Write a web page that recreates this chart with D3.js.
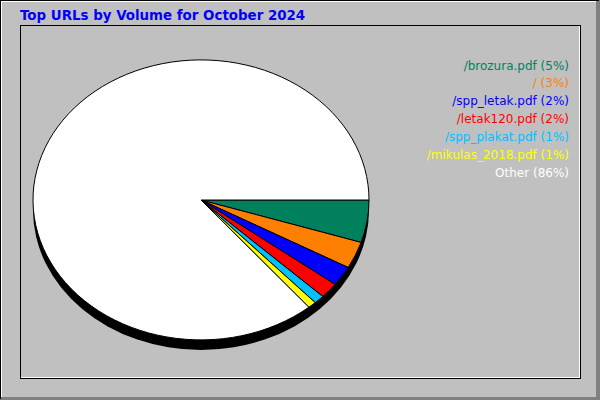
<!DOCTYPE html>
<html>
<head>
<meta charset="utf-8">
<script src="https://cdn.jsdelivr.net/npm/d3@7"></script>
<style>
  body { margin: 0; background: #c0c0c0; }
  svg { display: block; }
</style>
</head>
<body>
<svg id="chart" width="600" height="400"></svg>
<script>
// chart data
var urls = ["/brozura.pdf", "/", "/spp_letak.pdf", "/letak120.pdf", "/spp_plakat.pdf", "/mikulas_2018.pdf", "Other"];
var shares = [4.9, 3.1, 2.3, 1.8, 1.0, 0.8, 86.1];
var pctLabels = ["5%", "3%", "2%", "2%", "1%", "1%", "86%"];
var sliceColors = ["#00805c", "#ff8000", "#0000ff", "#ff0000", "#00c0ff", "#ffff00", "#ffffff"];
var title = "Top URLs by Volume for October 2024";

var W = 600, H = 400;
var cx = 201, cy = 200, rx = 168, ry = 140, depth = 10;

var svg = d3.select("#chart");

// background + bevelled frame
svg.append("rect").attr("width", W).attr("height", H).attr("fill", "#c0c0c0");
svg.append("rect").attr("x", 596).attr("y", 0).attr("width", 4).attr("height", H).attr("fill", "#808080");
svg.append("rect").attr("x", 0).attr("y", 397).attr("width", W).attr("height", 3).attr("fill", "#808080");

var frame = svg.append("g").attr("shape-rendering", "crispEdges").attr("stroke-width", 1);
frame.append("line").attr("x1", 0).attr("y1", 0.5).attr("x2", 599).attr("y2", 0.5).attr("stroke", "#000");
frame.append("line").attr("x1", 0.5).attr("y1", 0).attr("x2", 0.5).attr("y2", 399).attr("stroke", "#000");
frame.append("line").attr("x1", 1).attr("y1", 1.5).attr("x2", 596).attr("y2", 1.5).attr("stroke", "#fff");
frame.append("line").attr("x1", 1.5).attr("y1", 1).attr("x2", 1.5).attr("y2", 397).attr("stroke", "#fff");

// inner box
frame.append("line").attr("x1", 20).attr("y1", 25.5).attr("x2", 581).attr("y2", 25.5).attr("stroke", "#000");
frame.append("line").attr("x1", 20.5).attr("y1", 25).attr("x2", 20.5).attr("y2", 379).attr("stroke", "#000");
frame.append("line").attr("x1", 21).attr("y1", 377.5).attr("x2", 580).attr("y2", 377.5).attr("stroke", "#fff");
frame.append("line").attr("x1", 579.5).attr("y1", 26).attr("x2", 579.5).attr("y2", 378).attr("stroke", "#fff");
frame.append("line").attr("x1", 20).attr("y1", 378.5).attr("x2", 581).attr("y2", 378.5).attr("stroke", "#000");
frame.append("line").attr("x1", 580.5).attr("y1", 25).attr("x2", 580.5).attr("y2", 379).attr("stroke", "#000");

// title
svg.append("text")
  .attr("x", 20).attr("y", 20)
  .attr("font-family", "DejaVu Sans").attr("font-weight", "bold").attr("font-size", 13.4)
  .attr("fill", "#0000ff")
  .text(title);

// pie, starts at 3 o'clock and runs clockwise
var color = d3.scaleOrdinal().domain(urls).range(sliceColors);
var pie = d3.pie().sort(null).value(function(d) { return d; })
  .startAngle(Math.PI / 2).endAngle(Math.PI / 2 + 2 * Math.PI);
var arc = d3.arc().innerRadius(0).outerRadius(1);
var slices = pie(shares);

// 3D shadow
svg.append("ellipse")
  .attr("cx", cx).attr("cy", cy + depth).attr("rx", rx).attr("ry", ry)
  .attr("fill", "#000");

var g = svg.append("g").attr("transform", "translate(" + cx + "," + cy + ") scale(" + rx + "," + ry + ")");
g.selectAll("path")
  .data(slices)
  .enter()
  .append("path")
    .attr("d", arc)
    .attr("fill", function(d, i) { return color(urls[i]); })
    .attr("stroke", "#000")
    .attr("stroke-width", 1)
    .attr("vector-effect", "non-scaling-stroke")
    .attr("stroke-linejoin", "bevel");

// legend
var y = d3.scaleLinear().domain([0, urls.length - 1]).range([69.5, 176.5]);
svg.append("g").selectAll("text")
  .data(urls)
  .enter()
  .append("text")
    .attr("x", 569)
    .attr("y", function(d, i) { return y(i); })
    .attr("text-anchor", "end")
    .attr("font-family", "DejaVu Sans").attr("font-size", 12)
    .attr("fill", function(d) { return color(d); })
    .text(function(d, i) { return d + " (" + pctLabels[i] + ")"; });
</script>
</body>
</html>
